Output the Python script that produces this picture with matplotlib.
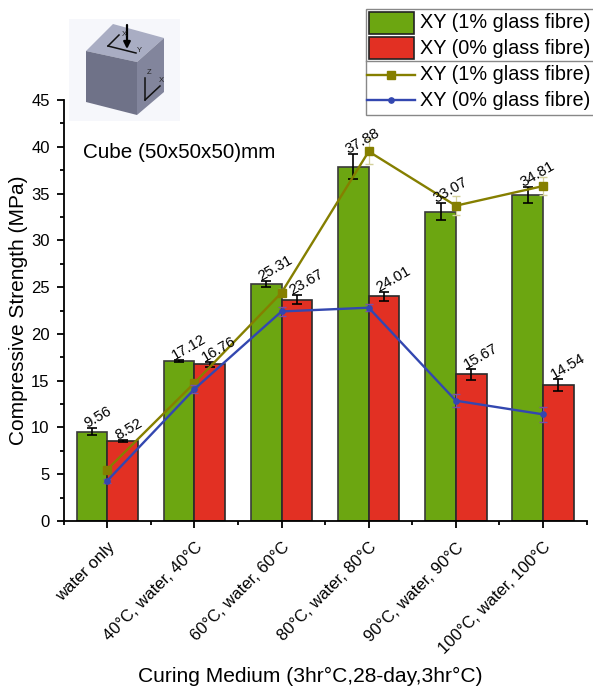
import numpy as np
import matplotlib
matplotlib.use("Agg")
import matplotlib.pyplot as plt
from matplotlib.patches import Polygon, Rectangle
from matplotlib.lines import Line2D
from matplotlib.transforms import ScaledTranslation

categories = ["water only", "40°C, water, 40°C", "60°C, water, 60°C",
              "80°C, water, 80°C", "90°C, water, 90°C", "100°C, water, 100°C"]
bars_1pct = [9.56, 17.12, 25.31, 37.88, 33.07, 34.81]
bars_0pct = [8.52, 16.76, 23.67, 24.01, 15.67, 14.54]
err_1pct = [0.35, 0.1, 0.35, 1.33, 0.9, 0.85]
err_0pct = [0.1, 0.25, 0.45, 0.45, 0.6, 0.65]
line_1pct = [5.5, 14.75, 24.4, 39.5, 33.7, 35.8]
line_0pct = [4.3, 14.1, 22.4, 22.8, 12.86, 11.4]
line_err_1pct = [0.2, 0.3, 0.4, 1.3, 1.0, 1.0]
line_err_0pct = [0.2, 0.4, 0.5, 0.4, 0.7, 0.8]
yticks = [0, 5, 10, 15, 20, 25, 30, 35, 40, 45]
label_1pct = "XY (1% glass fibre)"
label_0pct = "XY (0% glass fibre)"

GREEN = "#6ca611"
RED = "#e23023"
OLIVE = "#857f00"
BLUE = "#3347b0"
W, H = 593, 689

plt.rcParams["font.family"] = ["Liberation Sans", "DejaVu Sans"]
fig = plt.figure(figsize=(W / 100, H / 100), dpi=100)
ax = fig.add_axes([63.6 / W, 1 - 521 / H, 523 / W, 421 / H])

x = np.arange(len(categories))
width = 0.352
cap = dict(ecolor="black", elinewidth=1.2, capsize=3.3, capthick=1.2)
ax.bar(x - width / 2, bars_1pct, width, color=GREEN, edgecolor="#3a3a3a", linewidth=1.2,
       yerr=err_1pct, error_kw=cap)
ax.bar(x + width / 2, bars_0pct, width, color=RED, edgecolor="#2a2a2a", linewidth=1.2,
       yerr=err_0pct, error_kw=cap)

ax.errorbar(x, line_1pct, yerr=line_err_1pct, color=OLIVE, lw=1.7, marker="s", ms=5.8,
            ecolor="#d3d09a", elinewidth=0.9, capsize=3, zorder=5)
ax.errorbar(x, line_0pct, yerr=line_err_0pct, color=BLUE, lw=1.7, marker="o", ms=3.8,
            ecolor="#7a4fa8", elinewidth=0.9, capsize=3, zorder=6)

for xs, vals, errs in [(x - width / 2, bars_1pct, err_1pct), (x + width / 2, bars_0pct, err_0pct)]:
    for xi, v, e in zip(xs, vals, errs):
        ax.text(xi - 0.035, v + e - 0.25, f"{v:.2f}", rotation=30, fontsize=10.7, ha="left", va="bottom",
                rotation_mode="anchor", zorder=7)

ax.set_xlim(-0.5, 5.5)
ax.set_ylim(0, 45)
ax.set_yticks(yticks)
ax.set_yticks(np.arange(2.5, 45, 5), minor=True)
ax.set_xticks(x)
ax.set_xticks(np.arange(-0.5, 6, 1), minor=True)
ax.set_xticklabels(categories, rotation=45, ha="right", rotation_mode="anchor", fontsize=12)
shift = ScaledTranslation(9 / 100, 0, fig.dpi_scale_trans)
for lab in ax.get_xticklabels():
    lab.set_transform(lab.get_transform() + shift)
ax.tick_params(axis="both", which="major", length=5, width=1.3)
ax.tick_params(axis="both", which="minor", length=2.8, width=1.3)
ax.tick_params(axis="y", labelsize=12, pad=5)
ax.tick_params(axis="x", pad=8.5)
ax.spines["top"].set_visible(False)
ax.spines["right"].set_visible(False)
ax.spines["left"].set_linewidth(1.3)
ax.spines["bottom"].set_linewidth(1.3)
ax.set_ylabel("Compressive Strength (MPa)", fontsize=15)
ax.yaxis.set_label_coords(-36 / 523, 0.5)
fig.text(310 / W, 1 - 676 / H, "Curing Medium (3hr°C,28-day,3hr°C)", fontsize=15.1, ha="center", va="center")
ax.text(83 / W, 1 - 153 / H, "Cube (50x50x50)mm", fontsize=14.9, va="center", transform=fig.transFigure)

# overlay in pixel coordinates for the picture and the legend box
ov = fig.add_axes([0, 0, 1, 1], facecolor="none")
ov.set_xlim(0, W)
ov.set_ylim(H, 0)
ov.axis("off")

# cube picture
ov.add_patch(Rectangle((69, 19), 111, 102, color="#f6f7fb", lw=0))
ov.add_patch(Polygon([(86, 51), (113, 24), (164, 38), (137, 62)], color="#a9adc3", lw=0))
ov.add_patch(Polygon([(86, 51), (137, 62), (137, 115), (86, 102)], color="#6f7288", lw=0))
ov.add_patch(Polygon([(137, 62), (164, 38), (164, 92), (137, 115)], color="#82859c", lw=0))
for seg in [((108, 46), (119, 35)), ((108, 46), (136, 53)), ((145, 100), (145, 78)),
            ((145, 100), (160, 86))]:
    ov.add_line(Line2D(*zip(*seg), color="#111111", lw=1.1))
ov.annotate("", xy=(127, 49), xytext=(127, 25), arrowprops=dict(arrowstyle="-|>", color="black", lw=1.6,
                                                                shrinkA=0, shrinkB=0))
for px, py, s in [(124, 35, "X"), (139, 51, "Y"), (149, 72, "Z"), (161, 80, "X")]:
    ov.text(px, py, s, fontsize=5.5, ha="center", va="center", color="#222222")

# legend box
ov.add_patch(Rectangle((365.5, 8.5), 240, 106, fc="white", ec="#888888", lw=1, zorder=8, clip_on=False))
ov.add_line(Line2D([365.5, 593], [60.5, 60.5], color="#888888", lw=1, zorder=9))
ov.add_patch(Rectangle((368.5, 11.5), 45.5, 22.5, fc=GREEN, ec="#222222", lw=1.2, zorder=9))
ov.add_patch(Rectangle((368.5, 37), 45.5, 22, fc=RED, ec="#222222", lw=1.2, zorder=9))
ov.add_line(Line2D([367, 415], [75, 75], color=OLIVE, lw=1.7, zorder=9))
ov.add_line(Line2D([391], [75], color=OLIVE, marker="s", ms=5.8, zorder=10))
ov.add_line(Line2D([367, 415], [100, 100], color=BLUE, lw=1.7, zorder=9))
ov.add_line(Line2D([391], [100], color=BLUE, marker="o", ms=3.8, zorder=10))
for py, s in [(23, label_1pct), (48, label_0pct), (75, label_1pct), (100, label_0pct)]:
    ov.text(420, py, s, fontsize=14.3, va="center", zorder=10)

fig.savefig("out.png", dpi=100)
